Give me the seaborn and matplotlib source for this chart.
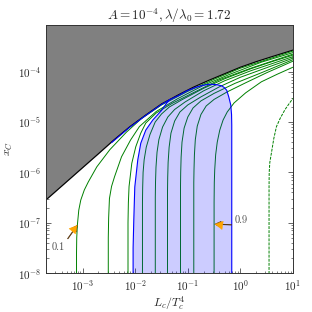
import numpy as np
import matplotlib
matplotlib.use("Agg")
import matplotlib.pyplot as plt
import seaborn as sns

sns.set_theme(style="ticks")
plt.rcParams['font.family'] = ['serif']
plt.rcParams['font.serif'] = ['cmr10', 'DejaVu Serif']
plt.rcParams['mathtext.fontset'] = 'cm'
plt.rcParams['axes.formatter.use_mathtext'] = True

# values, as log10(L_c/T_c^4) and log10(x_C)
bound_logL = [-3.7, -3.2, -2.7, -2.4, -2.1, -1.8, -1.5, -1.2, -0.9, -0.6, -0.3, 0.0, 0.3, 0.6, 1.0]
bound_logx = [-6.55, -6.09, -5.63, -5.35, -5.09, -4.86, -4.64, -4.47, -4.31, -4.17, -4.04, -3.91, -3.80, -3.70, -3.57]

c1_logL = [-3.116, -3.116, -3.112, -3.100, -3.073, -3.035, -2.968, -2.892, -2.730, -2.483, -2.166, -1.880, -1.500, -1.000, -0.500, 0.000, 0.500, 1.000]
c1_logx = [-8.1, -7.60, -7.30, -7.05, -6.75, -6.55, -6.35, -6.19, -5.89, -5.55, -5.20, -4.93, -4.66, -4.39, -4.15, -3.93, -3.76, -3.59]
c2_logL = [-2.512, -2.512, -2.505, -2.490, -2.450, -2.394, -2.260, -2.090, -1.920, -1.600, -1.200, -0.700, -0.200, 0.400, 1.000]
c2_logx = [-8.1, -7.30, -6.90, -6.52, -6.28, -6.09, -5.69, -5.36, -5.09, -4.79, -4.54, -4.27, -4.05, -3.81, -3.62]
c3_logL = [-2.137, -2.137, -2.130, -2.117, -2.065, -1.989, -1.894, -1.799, -1.600, -1.300, -0.900, -0.400, 0.200, 1.000]
c3_logx = [-8.1, -7.00, -6.60, -6.28, -5.82, -5.49, -5.22, -5.02, -4.82, -4.63, -4.42, -4.16, -3.93, -3.65]
c4_logL = [-1.862, -1.862, -1.858, -1.850, -1.830, -1.790, -1.720, -1.620, -1.500, -1.350, -1.100, -0.700, -0.300, 0.200, 0.600, 1.000]
c4_logx = [-8.1, -6.60, -6.30, -6.00, -5.75, -5.50, -5.25, -5.00, -4.84, -4.70, -4.55, -4.33, -4.14, -3.94, -3.80, -3.67]
c5_logL = [-1.618, -1.618, -1.614, -1.605, -1.585, -1.550, -1.480, -1.380, -1.250, -1.050, -0.700, -0.300, 0.200, 0.600, 1.000]
c5_logx = [-8.1, -6.50, -6.20, -5.90, -5.60, -5.35, -5.10, -4.90, -4.75, -4.60, -4.38, -4.18, -3.98, -3.84, -3.70]
c6_logL = [-1.386, -1.386, -1.382, -1.374, -1.355, -1.320, -1.250, -1.150, -1.000, -0.750, -0.400, 0.000, 0.500, 1.000]
c6_logx = [-8.1, -6.40, -6.10, -5.80, -5.50, -5.22, -4.98, -4.80, -4.66, -4.50, -4.30, -4.11, -3.92, -3.73]
c7_logL = [-1.139, -1.139, -1.135, -1.127, -1.110, -1.070, -1.000, -0.900, -0.750, -0.500, -0.100, 0.400, 1.000]
c7_logx = [-8.1, -6.30, -6.00, -5.70, -5.40, -5.12, -4.90, -4.72, -4.58, -4.43, -4.23, -4.02, -3.76]
c8_logL = [-0.886, -0.886, -0.882, -0.874, -0.857, -0.820, -0.750, -0.650, -0.500, -0.250, 0.100, 0.500, 1.000]
c8_logx = [-8.1, -6.20, -5.95, -5.65, -5.35, -5.08, -4.85, -4.68, -4.55, -4.40, -4.22, -4.02, -3.79]
c9_logL = [-0.500, -0.500, -0.496, -0.488, -0.470, -0.440, -0.392, -0.329, -0.250, -0.120, 0.100, 0.400, 0.700, 1.000]
c9_logx = [-8.1, -6.60, -6.20, -5.95, -5.65, -5.40, -5.16, -4.96, -4.80, -4.62, -4.42, -4.20, -4.05, -3.91]
dash_logL = [0.545, 0.545, 0.548, 0.560, 0.591, 0.635, 0.686, 0.760, 0.850, 0.930, 1.000]
dash_logx = [-8.1, -6.30, -6.00, -5.80, -5.61, -5.33, -5.09, -4.92, -4.75, -4.63, -4.53]

# blue region: inner left edge, then top arc and right edge
blue_in_logL = [-2.040, -2.040, -2.027, -2.008, -1.951, -1.894, -1.799, -1.666, -1.500, -1.400, -1.342]
blue_in_logx = [-8.1, -7.50, -6.95, -6.29, -5.75, -5.42, -5.16, -4.96, -4.77, -4.62, -4.555]
blue_arc_logL = [-1.342, -1.180, -1.019, -0.850, -0.715, -0.600, -0.525, -0.440, -0.354, -0.300, -0.259, -0.221, -0.183, -0.168, -0.164, -0.164]
blue_arc_logx = [-4.555, -4.475, -4.38, -4.31, -4.27, -4.25, -4.25, -4.26, -4.28, -4.32, -4.37, -4.50, -4.66, -4.85, -5.06, -8.1]
blue_out_logL = [-2.45, -2.10, -1.80, -1.50, -1.342]
blue_out_logx = [-5.41, -5.10, -4.87, -4.65, -4.555]

curves = [(c1_logL, c1_logx), (c2_logL, c2_logx), (c3_logL, c3_logx),
          (c4_logL, c4_logx), (c5_logL, c5_logx), (c6_logL, c6_logx),
          (c7_logL, c7_logx), (c8_logL, c8_logx), (c9_logL, c9_logx)]

def p10(v):
    return np.power(10.0, np.array(v))

fig = plt.figure(figsize=(3.12, 3.12), dpi=100)
ax = fig.add_axes([0.147, 0.125, 0.792, 0.795])

# excluded region
ax.fill_between(p10(bound_logL), p10(bound_logx), 1e-2, color='gray', lw=0, zorder=1)
sns.lineplot(x=p10(bound_logL), y=p10(bound_logx), sort=False, estimator=None,
             color='black', lw=0.8, ax=ax, zorder=2)

for lx, ly in curves:
    sns.lineplot(x=p10(lx), y=p10(ly), sort=False, estimator=None,
                 color='green', lw=0.7, ax=ax, zorder=3)
sns.lineplot(x=p10(dash_logL), y=p10(dash_logx), sort=False, estimator=None,
             color='green', lw=0.7, ax=ax, zorder=3, linestyle=(0, (3, 1.2)))

# shaded blue region
reg_L = np.concatenate([p10(blue_in_logL), p10(blue_arc_logL)])
reg_x = np.concatenate([p10(blue_in_logx), p10(blue_arc_logx)])
ax.fill(reg_L, reg_x, color='blue', alpha=0.2, lw=0, zorder=4)
for lx, ly in [(blue_in_logL, blue_in_logx), (blue_arc_logL, blue_arc_logx),
               (blue_out_logL, blue_out_logx)]:
    sns.lineplot(x=p10(lx), y=p10(ly), sort=False, estimator=None,
                 color='blue', lw=0.8, ax=ax, zorder=5)

arrow = dict(facecolor='#8b4a00', edgecolor='#3a2000', width=0.5, headwidth=4.5,
             headlength=4.5, shrink=0.0, lw=0.3)
ax.annotate('0.1', xy=(10**-3.10, 10**-7.05), xytext=(10**-3.58, 10**-7.48),
            ha='left', va='center', fontsize=7.5, color='0.3', arrowprops=arrow, zorder=6)
ax.annotate('0.9', xy=(10**-0.487, 10**-7.03), xytext=(10**-0.107, 10**-6.95),
            ha='left', va='center', fontsize=7.5, color='0.3', arrowprops=arrow, zorder=6)
# orange arrow heads
head = dict(arrowstyle='-|>,head_length=0.45,head_width=0.25', color='orange', lw=0.3,
            shrinkA=0, shrinkB=0)
ax.annotate('', xy=(10**-3.10, 10**-7.05), xytext=(10**-3.18, 10**-7.15),
            arrowprops=head, zorder=7)
ax.annotate('', xy=(10**-0.487, 10**-7.03), xytext=(10**-0.36, 10**-7.05),
            arrowprops=head, zorder=7)

ax.set_xscale('log')
ax.set_yscale('log')
ax.set_xlim(2e-4, 10)
ax.set_ylim(1e-8, 8.5e-4)
ax.tick_params(which='both', direction='in', top=True, right=True, labelsize=8, color='0.3',
               labelcolor='0.15')
ax.tick_params(which='major', length=3.5, width=0.6)
ax.tick_params(which='minor', length=1.8, width=0.5)
for s in ax.spines.values():
    s.set_linewidth(0.7)
    s.set_color('0.2')

ax.set_title(r'$A = 10^{-4}, \lambda/\lambda_0 = 1.72$', fontsize=9.5, pad=3)
ax.set_xlabel(r'$L_c/T_c^4$', fontsize=8.5, labelpad=1)
ax.set_ylabel(r'$x_C$', fontsize=8.5, labelpad=2)

fig.savefig('out.png', dpi=100)
